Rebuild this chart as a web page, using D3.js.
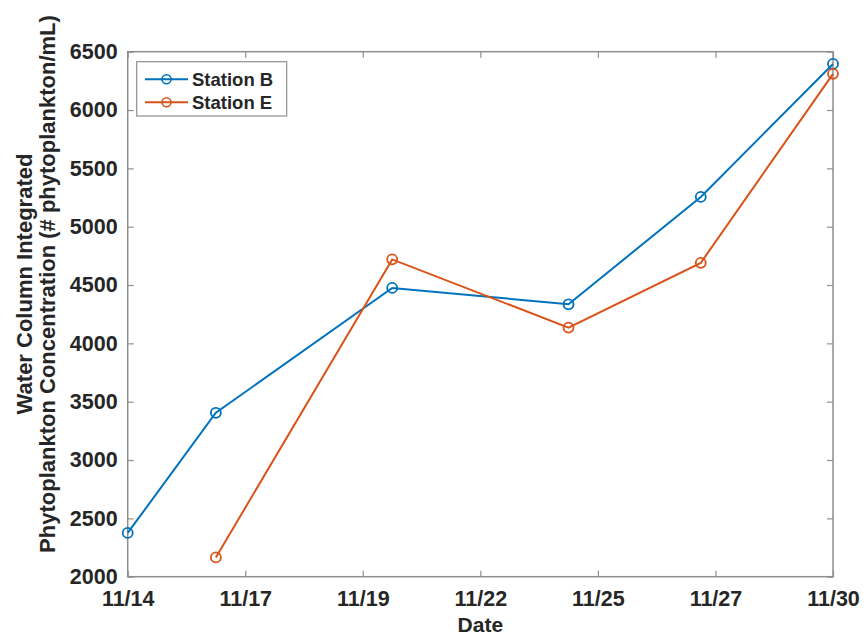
<!DOCTYPE html>
<html>
<head>
<meta charset="utf-8">
<script src="https://cdn.jsdelivr.net/npm/d3@7"></script>
<style>
  html, body { margin: 0; padding: 0; background: #fff; }
  svg { display: block; }
  text { font-family: "Liberation Sans", Arial, Helvetica, sans-serif; font-weight: bold; fill: #262626; }
</style>
</head>
<body>
<svg id="chart" width="864" height="638"></svg>
<script>
// ---- data (day of November) ----
const datesB = [14, 16, 20, 24, 27, 30];
const valuesB = [2375, 3405, 4475, 4335, 5255, 6395];
const datesE = [16, 20, 24, 27, 30];
const valuesE = [2165, 4720, 4135, 4690, 6310];
const seriesNames = ["Station B", "Station E"];
const seriesColors = ["#0072BD", "#D95319"];
const xTickValues = [14, 14 + 8/3, 14 + 16/3, 22, 22 + 8/3, 22 + 16/3, 30];
const xTickLabels = ["11/14", "11/17", "11/19", "11/22", "11/25", "11/27", "11/30"];
const yTickValues = [2000, 2500, 3000, 3500, 4000, 4500, 5000, 5500, 6000, 6500];
const xLabel = "Date";
const yLabelLines = ["Water Column Integrated", "Phytoplankton Concentration (# phytoplankton/mL)"];

// ---- layout ----
const L = 127.7, R = 833, T = 51.7, B = 576.7;
const svg = d3.select("#chart");
const x = d3.scaleLinear().domain([14, 30]).range([L, R]);
const y = d3.scaleLinear().domain([2000, 6500]).range([B, T]);
const axisColor = "#8f8f8f";

// box
svg.append("rect").attr("x", L).attr("y", T).attr("width", R - L).attr("height", B - T)
  .attr("fill", "none").attr("stroke", axisColor).attr("stroke-width", 1.5);

function styleAxis(g, hideText) {
  g.select(".domain").remove();
  g.selectAll(".tick line").attr("stroke", axisColor).attr("stroke-width", 1.2);
  g.selectAll(".tick text").style("font-size", "21.5px").attr("fill", "#262626");
  if (hideText) g.selectAll(".tick text").remove();
}

const fmtX = (d) => xTickLabels[xTickValues.indexOf(d)];
svg.append("g").attr("transform", `translate(0,${B})`)
  .call(d3.axisBottom(x).tickValues(xTickValues).tickFormat(fmtX).tickSizeInner(-6).tickSizeOuter(0).tickPadding(14))
  .call(g => styleAxis(g, false));
svg.append("g").attr("transform", `translate(0,${T})`)
  .call(d3.axisTop(x).tickValues(xTickValues).tickSizeInner(-6).tickSizeOuter(0))
  .call(g => styleAxis(g, true));
svg.append("g").attr("transform", `translate(${L},0)`)
  .call(d3.axisLeft(y).tickValues(yTickValues).tickFormat(d3.format("d")).tickSizeInner(-6).tickSizeOuter(0).tickPadding(10))
  .call(g => styleAxis(g, false));
svg.append("g").attr("transform", `translate(${R},0)`)
  .call(d3.axisRight(y).tickValues(yTickValues).tickSizeInner(-6).tickSizeOuter(0))
  .call(g => styleAxis(g, true));

// axis labels
svg.append("text").attr("x", (L + R) / 2).attr("y", 632).attr("text-anchor", "middle")
  .style("font-size", "21px").text(xLabel);
const yl = svg.append("text").attr("transform", "translate(32,284) rotate(-90)")
  .attr("text-anchor", "middle").style("font-size", "22px");
yl.append("tspan").attr("x", 0).attr("dy", 0).text(yLabelLines[0]);
yl.append("tspan").attr("x", 0).attr("dy", 23).text(yLabelLines[1]);

// series
const series = [
  { dates: datesB, values: valuesB },
  { dates: datesE, values: valuesE }
];
const line = d3.line().x(d => x(d[0])).y(d => y(d[1]));
series.forEach((s, i) => {
  const pts = s.dates.map((d, k) => [d, s.values[k]]);
  svg.append("path").datum(pts).attr("d", line).attr("fill", "none")
    .attr("stroke", seriesColors[i]).attr("stroke-width", 2);
  svg.append("g").selectAll("circle").data(pts).join("circle")
    .attr("cx", d => x(d[0])).attr("cy", d => y(d[1])).attr("r", 5)
    .attr("fill", "none").attr("stroke", seriesColors[i]).attr("stroke-width", 1.8);
});

// legend
const lg = svg.append("g");
lg.append("rect").attr("x", 136.7).attr("y", 61.7).attr("width", 150).attr("height", 54.3)
  .attr("fill", "#fff").attr("stroke", axisColor).attr("stroke-width", 1.2);
seriesNames.forEach((name, i) => {
  const yy = 79.3 + i * 23;
  lg.append("line").attr("x1", 145).attr("x2", 188).attr("y1", yy).attr("y2", yy)
    .attr("stroke", seriesColors[i]).attr("stroke-width", 2);
  lg.append("circle").attr("cx", 166.5).attr("cy", yy).attr("r", 4.5)
    .attr("fill", "none").attr("stroke", seriesColors[i]).attr("stroke-width", 1.6);
  lg.append("text").attr("x", 192).attr("y", yy + 6.5).style("font-size", "18.5px").text(name);
});
</script>
</body>
</html>
